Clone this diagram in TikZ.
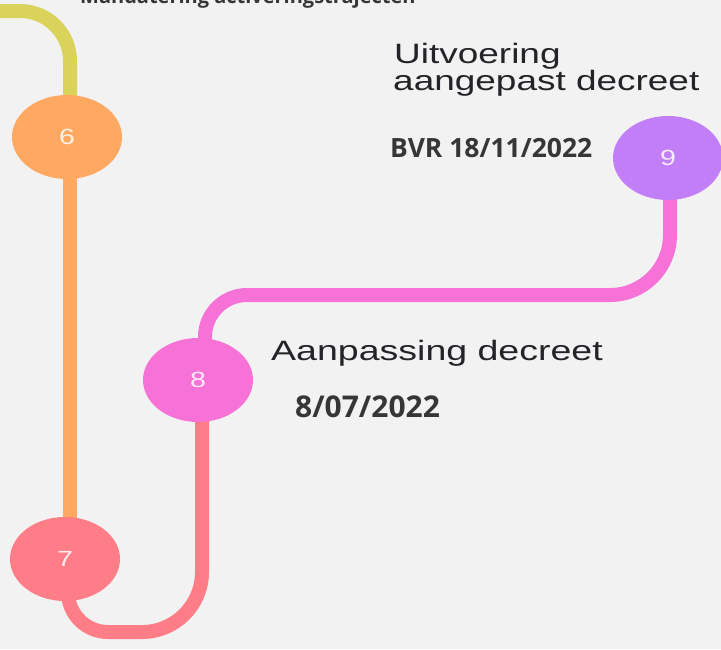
\documentclass[tikz,border=0pt]{standalone}
\usepackage{graphicx}
\usepackage{fontspec}
\setmainfont{Liberation Sans}
\newfontfamily\osans{Open Sans}
\usetikzlibrary{shapes.geometric}
\definecolor{bgc}{HTML}{F2F2F2}
\definecolor{cyel}{HTML}{D9D35B}
\definecolor{corange}{HTML}{FFA862}
\definecolor{ccoral}{HTML}{FF7D87}
\definecolor{cmag}{HTML}{F672D6}
\definecolor{cpurp}{HTML}{C27EF6}
\definecolor{txt}{HTML}{232328}
\definecolor{btxt}{HTML}{363636}
\pgfdeclarelayer{bgfill}
\pgfdeclarelayer{lines}
\pgfsetlayers{bgfill,lines,main}
\begin{document}
\begin{tikzpicture}[x=1pt,y=-1pt,
  stop/.style={ellipse, minimum width=110pt, minimum height=84pt, inner sep=0pt,
    fill=#1, text=white, text opacity=0.85, font=\fontsize{22}{22}\selectfont},
  track/.style={line width=14pt, draw=#1},
  lbl/.style={anchor=base west, inner sep=0pt, text=txt, font=\fontsize{28}{28}\selectfont},
  blbl/.style={anchor=base west, inner sep=0pt, text=btxt, font=\osans\bfseries\fontsize{26.5}{27}\selectfont}]
\useasboundingbox (0,0) rectangle (721,649);
\begin{pgfonlayer}{bgfill}
\fill[bgc] (0,0) rectangle (721,649);
\end{pgfonlayer}

% stops
\node[stop=corange] (n6) at (67,137) {\scalebox{1.3}[1]{6}};
\node[stop=ccoral]  (n7) at (65,559) {\scalebox{1.3}[1]{7}};
\node[stop=cmag]    (n8) at (198,380) {\scalebox{1.3}[1]{8}};
\node[stop=cpurp]   (n9) at (668,158) {\scalebox{1.3}[1]{9}};

% labels
\node[blbl, font=\osans\bfseries\fontsize{20}{20}\selectfont] (t6) at (80,3.5) {Mandatering activeringstrajecten};
\node[lbl] (t9a) at (394,63) {\scalebox{1.32}[1]{Uitvoering}};
\node[lbl] (t9b) at (393,90) {\scalebox{1.32}[1]{aangepast decreet}};
\node[blbl] (d9) at (390,157) {BVR 18/11/2022};
\node[lbl] (t8) at (271,360) {\scalebox{1.34}[1]{Aanpassing decreet}};
\node[blbl, font=\osans\bfseries\fontsize{30}{30}\selectfont] (d8) at (295,417) {8/07/2022};

% track
\coordinate (ystart) at (-20,11);
\coordinate (ycorner) at (70,11);
\coordinate (b1) at (68,632);
\coordinate (bm) at (125,632);
\coordinate (b2) at (202,632);
\coordinate (c1) at (205,295);
\coordinate (cm) at (440,295);
\coordinate (c2) at (670,295);
\begin{pgfonlayer}{lines}
\draw[track=cyel, rounded corners=50pt] (ystart) -- (ycorner) -- ([xshift=3pt]n6.center);
\draw[track=corange] ([xshift=3pt]n6.center) -- ([xshift=5pt]n7.center);
\draw[track=ccoral, rounded corners=40pt] ([xshift=3pt]n7.center) -- (b1) -- (bm);
\draw[track=ccoral, rounded corners=60pt] (bm) -- (b2) -- ([xshift=4pt]n8.center);
\draw[track=cmag, rounded corners=42pt] ([xshift=7pt]n8.center) -- (c1) -- (cm);
\draw[track=cmag, rounded corners=60pt] (cm) -- (c2) -- ([xshift=2pt]n9.center);
\end{pgfonlayer}
\end{tikzpicture}
\end{document}
